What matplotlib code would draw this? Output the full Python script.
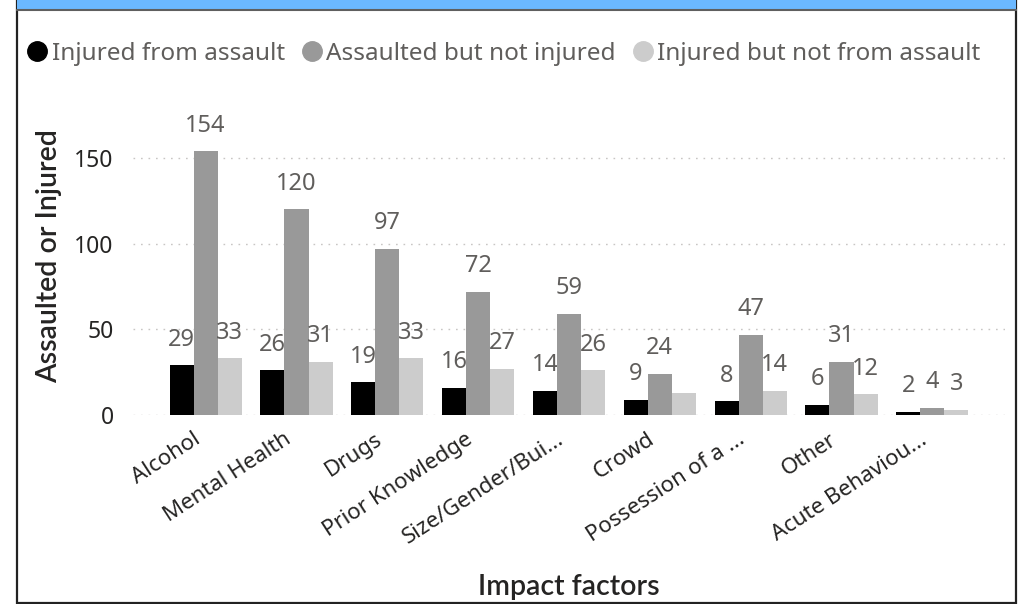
import matplotlib
matplotlib.use("Agg")
import matplotlib.pyplot as plt
import numpy as np
from matplotlib.lines import Line2D
from matplotlib.patches import Rectangle
from matplotlib.transforms import ScaledTranslation

# data
factors = ["Alcohol", "Mental Health", "Drugs", "Prior Knowledge", "Size/Gender/Bui...",
           "Crowd", "Possession of a ...", "Other", "Acute Behaviou..."]
series = ["Injured from assault", "Assaulted but not injured", "Injured but not from assault"]
injured_assault = [29, 26, 19, 16, 14, 9, 8, 6, 2]
assaulted_not_injured = [154, 120, 97, 72, 59, 24, 47, 31, 4]
injured_not_assault = [33, 31, 33, 27, 26, 13, 14, 12, 3]
yticks = [0, 50, 100, 150]
# data labels that the original hides (category index, series index)
hidden_labels = [(5, 2)]

colors = ["#000000", "#999999", "#CCCCCC"]
txt_dark = "#252423"
txt_grey = "#605E5C"
font = "Noto Sans"

plt.rcParams["font.family"] = [font, "DejaVu Sans"]

W, H = 1027, 604
fig = plt.figure(figsize=(W / 100, H / 100), dpi=100)

def px(x, y):
    # pixel coords (top-left origin) -> figure fraction
    return x / W, 1 - y / H

# frame of the visual
fig.patches.append(Rectangle(px(17, 603), 999 / W, 603 / H, transform=fig.transFigure,
                             fill=False, edgecolor="#222222", linewidth=1.6, zorder=0))
fig.patches.append(Rectangle(px(17, 9), 999 / W, 9 / H, transform=fig.transFigure,
                             facecolor="#6BB8FF", edgecolor="none", zorder=1))
fig.add_artist(Line2D([17 / W, 1016 / W], [1 - 9.5 / H, 1 - 9.5 / H], transform=fig.transFigure,
                      color="#5F5F5F", linewidth=1.5))

# plot area
x0, x1, ybase, ytop = 133, 1005, 415, 141
ax = fig.add_axes([x0 / W, 1 - ybase / H, (x1 - x0) / W, (ybase - ytop) / H])
ax.set_xlim(-0.8, len(factors) - 0.2)
ax.set_ylim(0, 160)

x = np.arange(len(factors))
bw = 0.265
values = [injured_assault, assaulted_not_injured, injured_not_assault]
for i, (vals, c, name) in enumerate(zip(values, colors, series)):
    bars = ax.bar(x + (i - 1) * bw, vals, width=bw, color=c, label=name, zorder=3)
    for j, (b, v) in enumerate(zip(bars, vals)):
        if (j, i) in hidden_labels:
            continue
        ax.annotate(str(v), (b.get_x() + b.get_width() / 2, v), xytext=(0, 18.5),
                    textcoords="offset points", ha="center", va="center",
                    fontsize=17, color=txt_grey, annotation_clip=False)

for sp in ax.spines.values():
    sp.set_visible(False)
ax.set_yticks(yticks)
ax.yaxis.grid(True, color="#C8C6C4", linewidth=1.0, linestyle=(0, (1.2, 4.2)), zorder=0)
ax.tick_params(axis="y", length=0, pad=14, labelsize=16.5, labelcolor=txt_dark)
ax.tick_params(axis="x", length=0, pad=0, labelsize=16, labelcolor=txt_dark)
ax.set_xticks(x)
ax.set_xticklabels(factors, rotation=33, ha="right", va="top", rotation_mode="anchor")
shift = ScaledTranslation(-13 / 100, -14 / 100, fig.dpi_scale_trans)
for lab in ax.get_xticklabels():
    lab.set_transform(lab.get_transform() + shift)

# axis titles
fig.text(*px(49, 256), "Assaulted or Injured", rotation=90, ha="center", va="center",
         fontsize=20.5, color=txt_dark, fontfamily="Lato", fontweight="semibold")
fig.text(*px(569, 587), "Impact factors", ha="center", va="center",
         fontsize=20.5, color=txt_dark, fontfamily="Lato", fontweight="semibold")

# legend
handles = [Line2D([], [], marker="o", linestyle="none", markersize=14, color=c) for c in colors]
fig.legend(handles, series, loc="center left", bbox_to_anchor=px(24, 54), ncol=3,
           frameon=False, fontsize=17.5, labelcolor=txt_grey, handletextpad=0.05,
           columnspacing=0.55, handlelength=1.1, borderaxespad=0, borderpad=0)

fig.savefig("out.png", dpi=100)
